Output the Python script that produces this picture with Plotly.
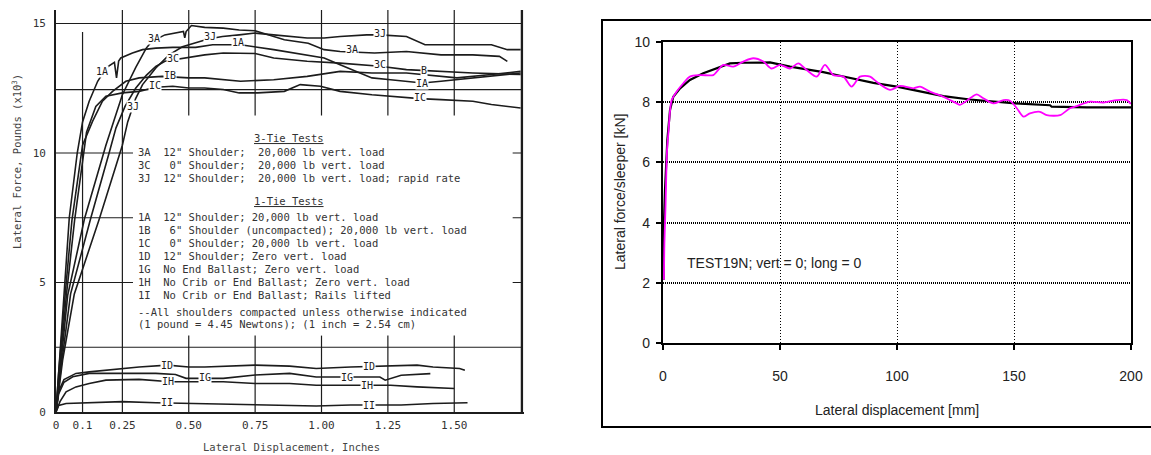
import plotly.graph_objects as go

W, H = 1151, 455

def pxx(v):
    return v / W

def pyy(v):
    return (H - v) / H

# ---------------- Left panel data (inches, kips) ----------------
x_1A = [0, 0.01, 0.03, 0.05, 0.08, 0.10, 0.125, 0.157, 0.19, 0.22, 0.228, 0.236, 0.244, 0.288, 0.326, 0.376, 0.44, 0.526, 0.59, 0.695, 0.82, 0.946, 1.01, 1.07, 1.13, 1.19, 1.26, 1.38, 1.45, 1.57, 1.75]
y_1A = [0, 1.5, 4.5, 7.5, 10, 11.2, 12.0, 12.77, 13.3, 13.5, 12.9, 13.55, 13.67, 13.86, 13.99, 14.05, 14.08, 14.08, 14.18, 14.18, 13.99, 13.79, 13.67, 13.41, 13.15, 12.9, 12.83, 12.7, 12.77, 12.9, 13.09]

x_1B = [0, 0.01, 0.035, 0.06, 0.10, 0.138, 0.175, 0.213, 0.263, 0.313, 0.40, 0.50, 0.56, 0.63, 0.695, 0.82, 0.946, 1.07, 1.19, 1.32, 1.39, 1.51, 1.64, 1.75]
y_1B = [0, 1.5, 4.6, 7.4, 10.3, 11.23, 12.0, 12.38, 12.77, 12.9, 12.96, 12.9, 12.9, 12.83, 12.77, 12.83, 12.96, 13.15, 13.09, 13.09, 13.03, 12.9, 13.03, 13.15]

x_1C = [0, 0.012, 0.04, 0.07, 0.115, 0.15, 0.188, 0.25, 0.313, 0.376, 0.44, 0.50, 0.56, 0.63, 0.69, 0.76, 0.86, 0.92, 0.996, 1.07, 1.19, 1.26, 1.37, 1.45, 1.57, 1.64, 1.75]
y_1C = [0, 1.5, 4.6, 7.4, 10.8, 11.8, 12.19, 12.32, 12.38, 12.54, 12.58, 12.51, 12.51, 12.45, 12.32, 12.32, 12.38, 12.64, 12.58, 12.38, 12.25, 12.19, 12.1, 12.06, 12.0, 11.87, 11.74]

x_3A = [0, 0.015, 0.044, 0.107, 0.188, 0.25, 0.30, 0.34, 0.36, 0.41, 0.48, 0.485, 0.49, 0.51, 0.56, 0.63, 0.69, 0.75, 0.86, 0.95, 1.01, 1.07, 1.115, 1.2, 1.32, 1.45, 1.57, 1.67, 1.70]
y_3A = [0, 1.5, 4.5, 7.45, 10.3, 12.25, 13.3, 14.05, 14.3, 14.56, 14.69, 14.45, 14.69, 14.92, 14.85, 14.82, 14.75, 14.72, 14.37, 14.24, 13.99, 13.92, 13.9, 13.86, 13.92, 13.79, 13.79, 13.73, 13.54]

x_3C = [0, 0.02, 0.055, 0.13, 0.20, 0.226, 0.26, 0.30, 0.34, 0.376, 0.41, 0.445, 0.50, 0.56, 0.63, 0.69, 0.75, 0.82, 0.946, 1.07, 1.22, 1.32, 1.45, 1.57, 1.75]
y_3C = [0, 1.8, 4.56, 7.45, 10.0, 10.97, 11.8, 12.5, 13.0, 13.34, 13.54, 13.6, 13.67, 13.79, 13.86, 13.86, 13.84, 13.67, 13.54, 13.47, 13.35, 13.22, 13.15, 13.09, 13.03]

x_3J = [0, 0.025, 0.069, 0.163, 0.25, 0.27, 0.30, 0.326, 0.376, 0.426, 0.476, 0.564, 0.60, 0.627, 0.69, 0.75, 0.82, 0.946, 1.01, 1.07, 1.17, 1.22, 1.32, 1.39, 1.51, 1.64, 1.70, 1.75]
y_3J = [0, 2.0, 4.56, 7.45, 10.3, 11.2, 12.1, 12.64, 13.28, 13.79, 14.1, 14.37, 14.45, 14.5, 14.56, 14.63, 14.56, 14.44, 14.44, 14.5, 14.56, 14.56, 14.5, 14.18, 14.18, 14.18, 13.99, 13.99]

x_1D = [0, 0.01, 0.03, 0.075, 0.125, 0.188, 0.25, 0.313, 0.42, 0.50, 0.56, 0.63, 0.75, 0.88, 0.98, 1.11, 1.18, 1.26, 1.36, 1.42, 1.52, 1.54]
y_1D = [0, 0.8, 1.25, 1.49, 1.55, 1.62, 1.68, 1.74, 1.81, 1.74, 1.74, 1.77, 1.81, 1.77, 1.68, 1.74, 1.76, 1.81, 1.81, 1.74, 1.68, 1.61]

x_1G = [0, 0.01, 0.03, 0.063, 0.125, 0.25, 0.376, 0.45, 0.49, 0.56, 0.63, 0.75, 0.88, 0.98, 1.07, 1.17, 1.22, 1.24, 1.30, 1.41]
y_1G = [0, 0.7, 1.15, 1.36, 1.49, 1.49, 1.49, 1.45, 1.3, 1.3, 1.3, 1.43, 1.49, 1.35, 1.35, 1.35, 1.35, 1.23, 1.42, 1.48]

x_1H = [0, 0.015, 0.038, 0.075, 0.125, 0.188, 0.313, 0.43, 0.50, 0.63, 0.75, 0.88, 0.98, 1.11, 1.17, 1.26, 1.36, 1.50]
y_1H = [0, 0.4, 0.78, 0.97, 1.1, 1.23, 1.26, 1.17, 1.17, 1.17, 1.1, 1.1, 1.03, 1.03, 1.03, 1.03, 0.97, 0.91]

x_1I = [0, 0.01, 0.038, 0.125, 0.25, 0.376, 0.42, 0.50, 0.63, 0.75, 0.86, 0.98, 1.11, 1.18, 1.30, 1.42, 1.55]
y_1I = [0, 0.25, 0.33, 0.36, 0.4, 0.36, 0.35, 0.33, 0.31, 0.27, 0.27, 0.23, 0.27, 0.27, 0.27, 0.33, 0.36]

left_curves = [(x_1A, y_1A), (x_1B, y_1B), (x_1C, y_1C), (x_3A, y_3A), (x_3C, y_3C), (x_3J, y_3J),
               (x_1D, y_1D), (x_1G, y_1G), (x_1H, y_1H), (x_1I, y_1I)]

curve_label_text = ["3A", "3J", "1A", "3C", "IB", "IC", "1A", "3J",
                    "3J", "3A", "3C", "B", "IA", "IC",
                    "ID", "IG", "IH", "II", "ID", "IG", "IH", "II"]
curve_label_x = [0.368, 0.58, 0.685, 0.44, 0.43, 0.373, 0.173, 0.29,
                 1.22, 1.115, 1.22, 1.385, 1.38, 1.37,
                 0.418, 0.56, 0.42, 0.418, 1.18, 1.096, 1.17, 1.18]
curve_label_y = [14.42, 14.49, 14.25, 13.63, 13.0, 12.59, 13.13, 11.78,
                 14.63, 13.98, 13.4, 13.2, 12.68, 12.16,
                 1.81, 1.35, 1.16, 0.35, 1.74, 1.35, 1.04, 0.27]

left_xticks = [0, 0.1, 0.25, 0.5, 0.75, 1.0, 1.25, 1.5]
left_xticktext = ["0", "0.1", "0.25", "0.50", "0.75", "1.00", "1.25", "1.50"]
left_yticks = [0, 5, 10, 15]

legend_lines = [
    "<u>3-Tie Tests</u>",
    '3A  12" Shoulder;  20,000 lb vert. load',
    '3C   0" Shoulder;  20,000 lb vert. load',
    '3J  12" Shoulder;  20,000 lb vert. load; rapid rate',
    "<u>1-Tie Tests</u>",
    '1A  12" Shoulder; 20,000 lb vert. load',
    '1B   6" Shoulder (uncompacted); 20,000 lb vert. load',
    '1C   0" Shoulder; 20,000 lb vert. load',
    '1D  12" Shoulder; Zero vert. load',
    '1G  No End Ballast; Zero vert. load',
    '1H  No Crib or End Ballast; Zero vert. load',
    '1I  No Crib or End Ballast; Rails lifted',
    '--All shoulders compacted unless otherwise indicated',
    '(1 pound = 4.45 Newtons); (1 inch = 2.54 cm)',
]

# ---------------- Right panel data (mm, kN) ----------------
disp_fit = [0.3, 0.4, 0.85, 1.85, 3.0, 4.4, 7.3, 11.5, 17.2, 23, 28.6, 34, 40, 45.7, 54.3, 61.4, 68.5, 75.6, 82.8, 89.9, 99.9, 109.8, 119.8, 131.2, 145.5, 152.6, 165.4, 166.1, 181, 200]
force_fit = [2.1, 4.0, 5.08, 6.74, 7.74, 8.18, 8.46, 8.74, 8.96, 9.12, 9.29, 9.31, 9.32, 9.32, 9.18, 9.1, 9.0, 8.88, 8.76, 8.64, 8.52, 8.35, 8.2, 8.09, 8.0, 7.95, 7.9, 7.85, 7.83, 7.83]

disp_meas = [0.4, 0.6, 1.1, 1.4, 1.8, 2.3, 3.0, 3.7, 5.8, 8.7, 11.5, 15.8, 21.5, 22.9, 25.8, 30, 34.3, 38.6, 42.9, 46.4, 50, 54.3, 57.8, 61.4, 65.7, 69.2, 72.8, 77.1, 80.6, 84.2, 88.5, 91.3, 97, 101.3, 107, 109.8, 114.1, 119.8, 125.5, 126.9, 131.2, 134.1, 136.9, 141.2, 145.5, 148.3, 151.2, 154, 156.8, 161.1, 164, 169.7, 173.9, 176.8, 182.5, 188.2, 193.9, 198.2, 199.9]
force_meas = [2.1, 3.3, 4.6, 5.6, 6.5, 6.97, 7.7, 8.07, 8.35, 8.63, 8.85, 8.9, 8.9, 9.01, 9.24, 9.18, 9.35, 9.46, 9.35, 9.12, 9.24, 9.12, 9.29, 9.07, 8.85, 9.24, 8.9, 8.85, 8.52, 8.85, 8.85, 8.68, 8.41, 8.54, 8.46, 8.52, 8.35, 8.18, 7.96, 7.91, 8.13, 8.26, 8.13, 7.96, 8.07, 8.05, 7.8, 7.52, 7.63, 7.68, 7.57, 7.57, 7.8, 7.87, 8.02, 7.99, 8.07, 8.07, 7.94]

right_xticks = [0, 50, 100, 150, 200]
right_yticks = [0, 2, 4, 6, 8, 10]

# ---------------- Figure ----------------
MONO = "DejaVu Sans Mono"
ARIAL = "Liberation Sans, Arial"
INK = "#1c1c1c"
TXT = "#333333"

fig = go.Figure()

for xs, ys in left_curves:
    fig.add_trace(go.Scatter(x=xs, y=ys, mode="lines", xaxis="x", yaxis="y",
                             line=dict(color=INK, width=1.6), hoverinfo="skip",
                             showlegend=False))

fig.add_trace(go.Scatter(x=disp_fit, y=force_fit, mode="lines", xaxis="x2", yaxis="y2",
                         line=dict(color="black", width=2.2), hoverinfo="skip",
                         showlegend=False))
fig.add_trace(go.Scatter(x=disp_meas, y=force_meas, mode="lines", xaxis="x2", yaxis="y2",
                         line=dict(color="#ff00ff", width=1.8, shape="spline", smoothing=0.8),
                         hoverinfo="skip", showlegend=False))

# left panel scale: x=0 at px 56, 265.5 px per inch; y=0 at py 412, 25.9 px per kip
XMAX_L = (523.5 - 56) / 265.5
YMAX_L = (412 - 10) / 25.9

shapes = []
def lline(x0, y0, x1, y1, w=1.2, color=INK):
    shapes.append(dict(type="line", xref="x", yref="y", x0=x0, y0=y0, x1=x1, y1=y1,
                       line=dict(color=color, width=w), layer="below"))

XR = 1.755
for yv in [15, 12.45, 2.5]:
    lline(0, yv, XR, yv)
for yv in [10, 7.5, 5]:
    lline(0, yv, 0.29, yv)
    lline(XR - 0.035, yv, XR, yv)
lline(0.1, 0, 0.1, 14.67)
lline(0.25, 0, 0.25, YMAX_L)
for xv in [0.5, 0.75, 1.0, 1.25, 1.5]:
    lline(xv, 0, xv, 2.95)
    lline(xv, 11.45, xv, YMAX_L)
lline(XR, 0, XR, YMAX_L, w=2.4)

# outer frame of the right chart
shapes.append(dict(type="rect", xref="paper", yref="paper",
                   x0=pxx(602), y0=pyy(427), x1=1.02, y1=pyy(20),
                   line=dict(color="black", width=2), fillcolor="rgba(0,0,0,0)", layer="below"))

annotations = []
for t, xv, yv in zip(curve_label_text, curve_label_x, curve_label_y):
    annotations.append(dict(text=t, x=xv, y=yv, xref="x", yref="y", showarrow=False,
                            xanchor="center", yanchor="middle",
                            font=dict(family=MONO, size=10, color=INK),
                            bgcolor="white", borderpad=0))

legend_py = [138, 152, 165, 178, 201, 217, 230, 243, 256, 269, 282, 295, 312, 324]
legend_px = [253, 137, 137, 137, 253, 137, 137, 137, 137, 137, 137, 137, 137, 137]
for t, lx, ly in zip(legend_lines, legend_px, legend_py):
    annotations.append(dict(text=t, x=pxx(lx), y=pyy(ly), xref="paper", yref="paper",
                            xanchor="left", yanchor="middle", showarrow=False,
                            font=dict(family=MONO, size=10.5, color=TXT),
                            bgcolor="white", borderpad=0))

def title_ann(text, x, y, family, size, color, angle=0):
    return dict(text=text, x=pxx(x), y=pyy(y), xref="paper", yref="paper",
                xanchor="center", yanchor="middle", showarrow=False, textangle=angle,
                font=dict(family=family, size=size, color=color))

annotations.append(title_ann("Lateral Force, Pounds (x10<sup>3</sup>)", 17, 162, MONO, 10.5, "#444", -90))
annotations.append(title_ann("Lateral Displacement, Inches", 291, 447, MONO, 10.5, "#444"))
annotations.append(title_ann("Lateral displacement [mm]", 897, 410, ARIAL, 14, "#222"))
annotations.append(title_ann("Lateral force/sleeper [kN]", 620, 192, ARIAL, 14, "#222", -90))
annotations.append(dict(text="TEST19N; vert = 0; long = 0", x=9.4, y=2.66,
                        xref="x2", yref="y2", xanchor="left", yanchor="middle", showarrow=False,
                        font=dict(family=ARIAL, size=14, color="#222")))

fig.update_layout(
    width=W, height=H, autosize=False,
    margin=dict(l=0, r=0, t=0, b=0, pad=0),
    paper_bgcolor="white", plot_bgcolor="rgba(0,0,0,0)",
    showlegend=False,
    shapes=shapes, annotations=annotations,
    xaxis=dict(domain=[pxx(56), pxx(523.5)], range=[0, XMAX_L], anchor="y",
               showgrid=False, zeroline=False, showline=True, linecolor=INK, linewidth=2.2,
               tickvals=left_xticks, ticktext=left_xticktext, ticks="",
               tickfont=dict(family=MONO, size=11, color=TXT), ticklabelstandoff=2,
               automargin=False),
    yaxis=dict(domain=[pyy(412), pyy(10)], range=[0, YMAX_L], anchor="x",
               showgrid=False, zeroline=False, showline=True, linecolor=INK, linewidth=1.8,
               tickvals=left_yticks, ticks="",
               tickfont=dict(family=MONO, size=11, color=TXT), ticklabelstandoff=6,
               automargin=False),
    xaxis2=dict(domain=[pxx(663), pxx(1131)], range=[0, 200], anchor="y2",
                showgrid=True, gridcolor="black", gridwidth=1, griddash="1px,2px",
                zeroline=False, showline=True, mirror=True, linecolor="black", linewidth=2.2,
                tickvals=right_xticks, ticks="outside", ticklen=5, tickwidth=2, tickcolor="black",
                tickfont=dict(family=ARIAL, size=14, color="#222"), ticklabelstandoff=14,
                automargin=False),
    yaxis2=dict(domain=[pyy(343), pyy(42)], range=[0, 10], anchor="x2",
                showgrid=True, gridcolor="black", gridwidth=1.6, griddash="1px,1px",
                zeroline=False, showline=True, mirror=True, linecolor="black", linewidth=2.2,
                tickvals=right_yticks, ticks="outside", ticklen=5, tickwidth=2, tickcolor="black",
                tickfont=dict(family=ARIAL, size=14, color="#222"), ticklabelstandoff=3,
                automargin=False),
)

fig.write_html("out.html", config={"displayModeBar": False},
               post_script="document.body.style.margin='0';document.body.style.overflow='hidden';")
